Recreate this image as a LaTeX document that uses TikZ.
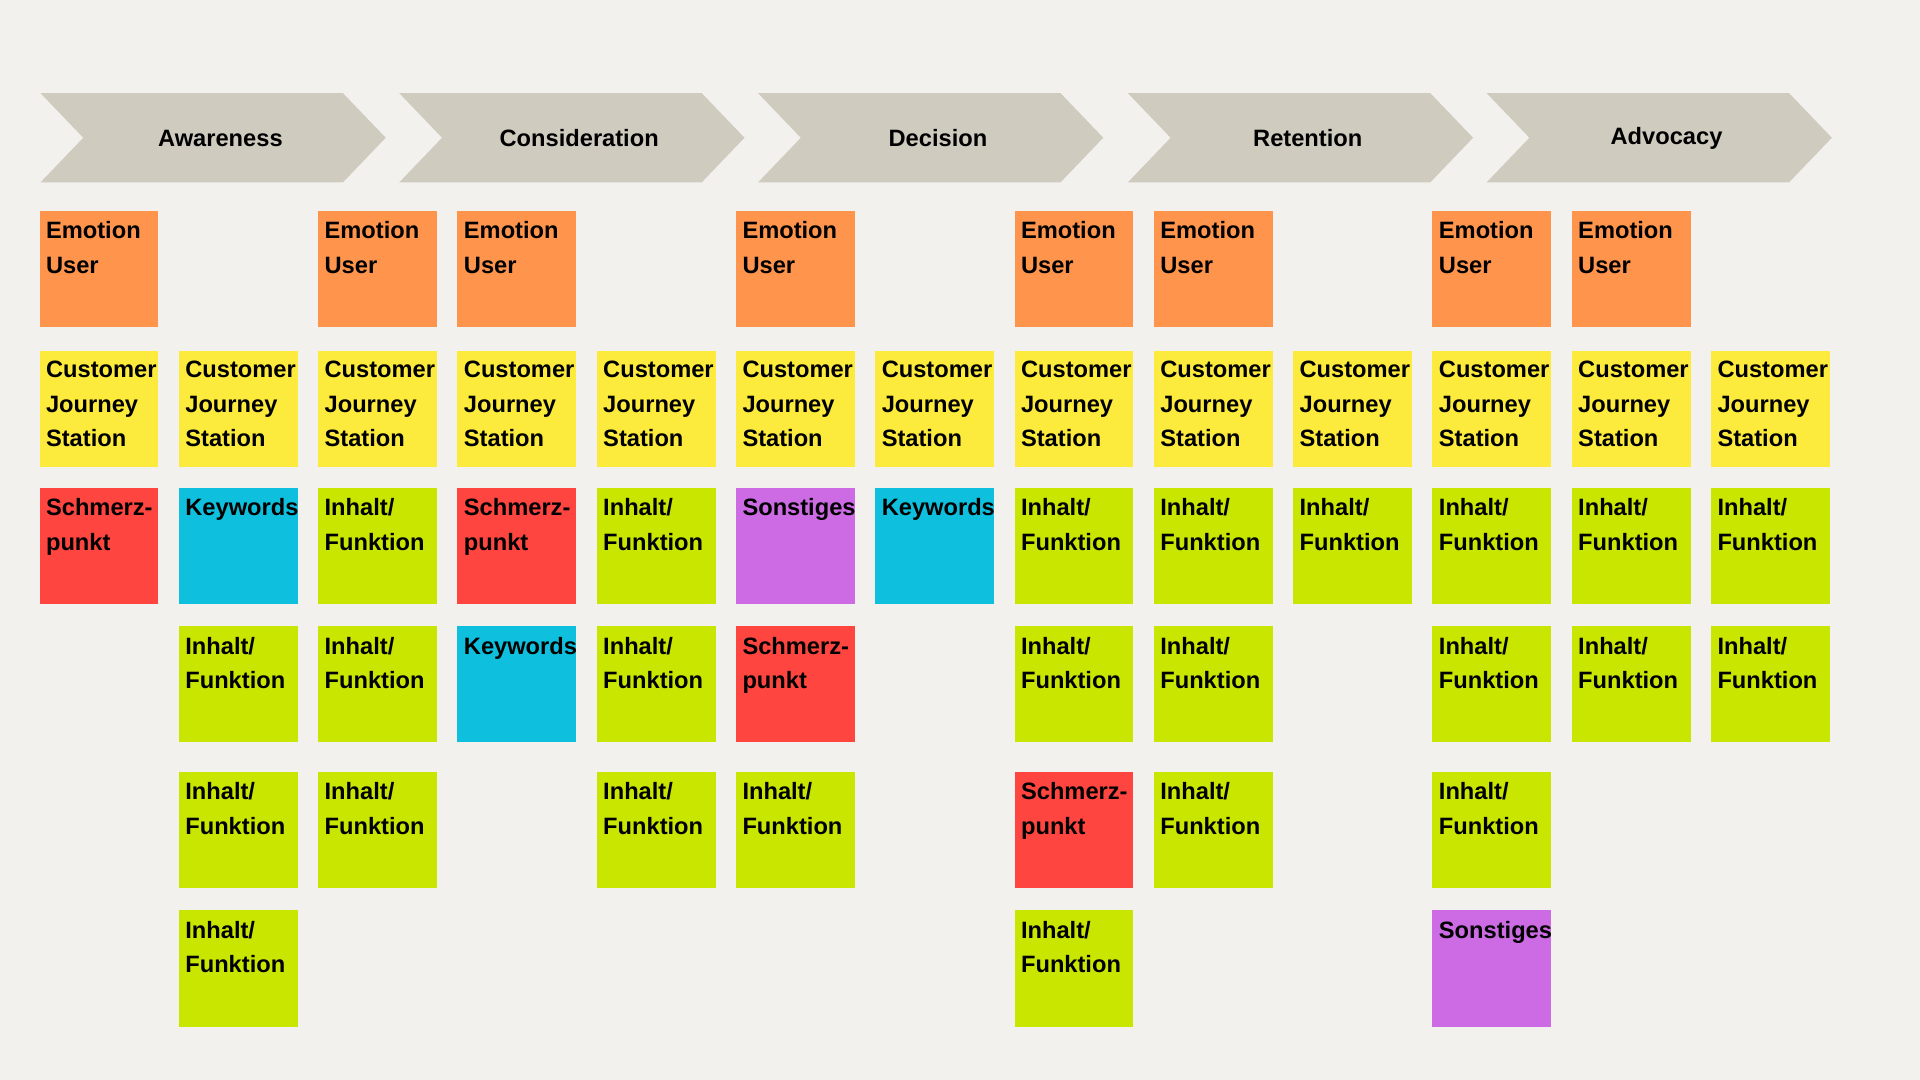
\documentclass[tikz,border=0pt]{standalone}
\usepackage{fontspec}
\setmainfont{Liberation Sans}
\usetikzlibrary{positioning}
\definecolor{bgc}{HTML}{F2F1EE}
\definecolor{chev}{HTML}{CFCBBE}
\definecolor{emoc}{HTML}{FF944D}
\definecolor{statc}{HTML}{FCEB3C}
\definecolor{painc}{HTML}{FF4540}
\definecolor{kwc}{HTML}{0EC0DD}
\definecolor{inhc}{HTML}{C8E600}
\definecolor{miscc}{HTML}{CC6BE4}
\newcommand{\txtemo}{Emotion\\User}
\newcommand{\txtstat}{Customer\\Journey\\Station}
\newcommand{\txtpain}{Schmerz-\\punkt}
\newcommand{\txtkw}{Keywords}
\newcommand{\txtinh}{Inhalt/\\Funktion}
\newcommand{\txtmisc}{Sonstiges}
\begin{document}
\begin{tikzpicture}[x=0.02cm, y=-0.02cm, every node/.style={font=\bfseries\fontsize{11}{16}\selectfont}]
\tikzset{
  note/.style={
    rectangle,
    anchor=north west,
    minimum width=1.94cm,
    minimum height=1.9cm,
    inner sep=0pt,
  },
  emo/.style={fill=emoc},
  stat/.style={fill=statc},
  pain/.style={fill=painc},
  kw/.style={fill=kwc},
  inh/.style={fill=inhc},
  misc/.style={fill=miscc},
  stage/.style={fill=chev},
  notetext/.style={anchor=north west, align=left, inner sep=0pt},
}
\fill[bgc] (0,0) rectangle (1568,882);

% stages
\foreach \x/\name [count=\i] in {33/Awareness,326/Consideration,619/Decision,921/Retention,1214/Advocacy}{
  \fill[stage] (\x,76) -- ++(247,0) -- ++(35,36.5) -- ++(-35,36.5) -- ++(-247,0) -- ++(35,-36.5) -- cycle;
  \node (stage\i) at (\x+147,113) {\name};
}

% notes
\foreach \c/\r/\k in {
  1/1/emo,1/2/stat,1/3/pain,
  2/2/stat,2/3/kw,2/4/inh,2/5/inh,2/6/inh,
  3/1/emo,3/2/stat,3/3/inh,3/4/inh,3/5/inh,
  4/1/emo,4/2/stat,4/3/pain,4/4/kw,
  5/2/stat,5/3/inh,5/4/inh,5/5/inh,
  6/1/emo,6/2/stat,6/3/misc,6/4/pain,6/5/inh,
  7/2/stat,7/3/kw,
  8/1/emo,8/2/stat,8/3/inh,8/4/inh,8/5/pain,8/6/inh,
  9/1/emo,9/2/stat,9/3/inh,9/4/inh,9/5/inh,
  10/2/stat,10/3/inh,
  11/1/emo,11/2/stat,11/3/inh,11/4/inh,11/5/inh,11/6/misc,
  12/1/emo,12/2/stat,12/3/inh,12/4/inh,
  13/2/stat,13/3/inh,13/4/inh}{
  \pgfmathsetmacro{\nx}{32+(\c-1)*113.75}
  \pgfmathsetmacro{\ny}{{172,286,398,511,630,743}[\r-1]}
  \node[note,\k] (n\c-\r) at (\nx,\ny) {};
  \node[notetext] at ([xshift=3pt,yshift=-5pt]n\c-\r.north west) {\csname txt\k\endcsname};
}
\end{tikzpicture}
\end{document}
